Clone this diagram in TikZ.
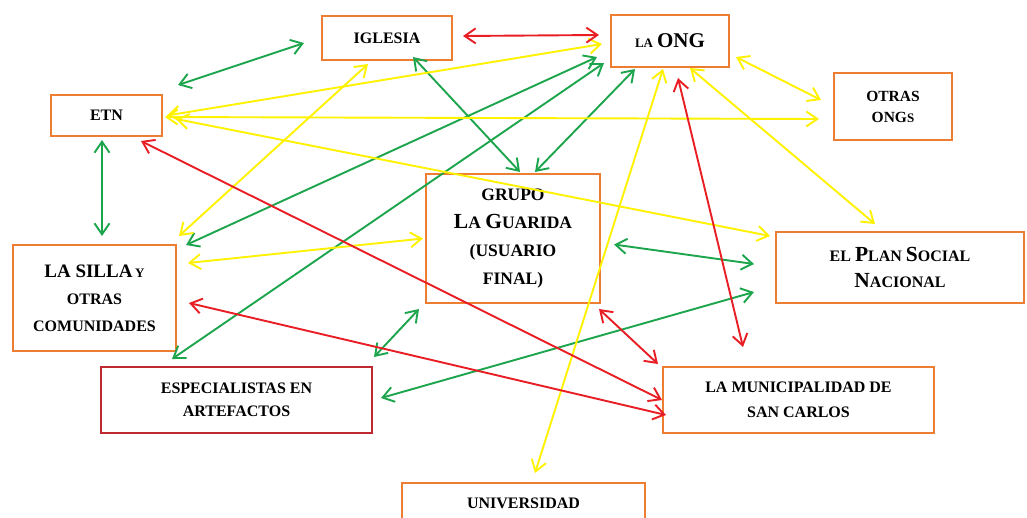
\documentclass[tikz,border=0pt]{standalone}
\usepackage{fontspec}
\setmainfont{Liberation Serif}
\usetikzlibrary{arrows.meta}
\definecolor{cgreen}{RGB}{28,165,76}
\definecolor{cyellow}{RGB}{255,242,0}
\definecolor{cred}{RGB}{232,30,36}
\definecolor{corange}{RGB}{237,125,49}
\definecolor{cdark}{RGB}{192,40,50}
\newcommand\smc[1]{{\fontsize{13}{13}\selectfont #1}}
\newcommand\lgc[1]{{\fontsize{21.5}{21.5}\selectfont #1}}
\tikzset{
  box/.style={draw=corange, line width=2pt, inner sep=0pt, align=center,
    font=\bfseries\fontsize{16}{23}\selectfont},
  ar/.style={line width=1.9pt, >={Straight Barb[length=11pt,width=15pt]}, <->},
  ga/.style={ar, draw=cgreen},
  ya/.style={ar, draw=cyellow},
  ra/.style={ar, draw=cred}
}
\begin{document}
\begin{tikzpicture}[x=1pt,y=-1pt]
\fill[white] (0,0) rectangle (1027,517);
\useasboundingbox (0,0) rectangle (1027,517);
\clip (0,0) rectangle (1027,517);

\node[box, minimum width=130, minimum height=44] (iglesia) at (387,38) {IGLESIA};
\node[box, minimum width=118, minimum height=52] (ong) at (670,41) {\smc{LA} {\fontsize{21}{21}\selectfont ONG}};
\node[box, minimum width=111, minimum height=41] (etn) at (106.5,115.5) {ETN};
\node[box, minimum width=118, minimum height=67, font=\bfseries\fontsize{15.5}{21}\selectfont] (otras) at (893,106.5) {OTRAS\\ONG\smc{S}};
\node[box, minimum width=174, minimum height=129, font=\bfseries\fontsize{17.5}{28}\selectfont] (grupo) at (513,238.5) {GRUPO\\\lgc{L}A \lgc{G}UARIDA\\(USUARIO\\FINAL)};
\node[box, minimum width=163, minimum height=106, font=\bfseries\fontsize{16}{27}\selectfont] (silla) at (94.5,298) {{\fontsize{19}{19}\selectfont LA SILLA}\,\smc{Y}\\OTRAS\\COMUNIDADES};
\node[box, minimum width=248, minimum height=71, font=\bfseries\fontsize{16}{26}\selectfont] (plan) at (900,267.5) {EL \lgc{P}LAN \lgc{S}OCIAL\\\lgc{N}ACIONAL};
\node[box, draw=cdark, minimum width=271, minimum height=66] (esp) at (236.5,400) {ESPECIALISTAS EN\\ARTEFACTOS};
\node[box, minimum width=271, minimum height=66, font=\bfseries\fontsize{16}{25}\selectfont] (muni) at (798.5,400) {LA MUNICIPALIDAD DE\\SAN CARLOS};
\node[box, anchor=north, minimum width=243, inner ysep=4pt, text height=21pt, text depth=30pt] (univ) at (523.5,482) {UNIVERSIDAD};

% green
\draw[ga] ([shift={(15,-9)}]etn.north east) -- ([shift={(-17,5)}]iglesia.west);
\draw[ga] ([shift={(26,-4)}]iglesia.south) -- ([shift={(7,-1)}]grupo.north);
\draw[ga] ([shift={(-4.5,3)}]etn.south) -- ([shift={(7.5,-8)}]silla.north);
\draw[ga] ([shift={(9,1)}]silla.north east) -- ([shift={(-13,16)}]ong.west);
\draw[ga] ([shift={(72,-7)}]esp.north west) -- ([shift={(-6,-5)}]ong.south west);
\draw[ga] ([shift={(22,-1)}]grupo.north) -- ([shift={(-35,1)}]ong.south);
\draw[ga] ([shift={(13,6)}]grupo.east) -- ([shift={(-21,-3.5)}]plan.west);
\draw[ga] ([shift={(8,-2)}]esp.east) -- ([shift={(-21,24.5)}]plan.west);
\draw[ga] ([shift={(1,-9)}]esp.north east) -- ([shift={(-6,5)}]grupo.south west);

% yellow
\draw[ya] ([shift={(2,-8)}]silla.north east) -- ([shift={(-19,3)}]iglesia.south);
\draw[ya] ([shift={(4,0)}]etn.east) -- ([shift={(-8,3)}]ong.west);
\draw[ya] ([shift={(2,1.5)}]etn.east) -- ([shift={(-14,12.5)}]otras.west);
\draw[ya] ([shift={(13,3.5)}]etn.east) -- ([shift={(-5,5)}]plan.north west);
\draw[ya] ([shift={(11,-35)}]silla.east) -- ([shift={(-2,0)}]grupo.west);
\draw[ya] ([shift={(-7,1)}]ong.south) -- ([shift={(11.5,-9)}]univ.north);
\draw[ya] ([shift={(20,0)}]ong.south) -- ([shift={(-25,-7)}]plan.north);
\draw[ya] ([shift={(6,16)}]ong.east) -- ([shift={(-12,-6.5)}]otras.west);

% red
\draw[ra] ([shift={(10,-2)}]iglesia.east) -- ([shift={(-11,-6)}]ong.west);
\draw[ra] ([shift={(-22,4)}]etn.south east) -- (muni.west);
\draw[ra] ([shift={(12,5)}]silla.east) -- ([shift={(4,15)}]muni.west);
\draw[ra] ([shift={(-2,5)}]grupo.south east) -- ([shift={(-4,-2)}]muni.north west);
\draw[ra] ([shift={(8,10)}]ong.south) -- ([shift={(-55.5,-19)}]muni.north);
\end{tikzpicture}
\end{document}
